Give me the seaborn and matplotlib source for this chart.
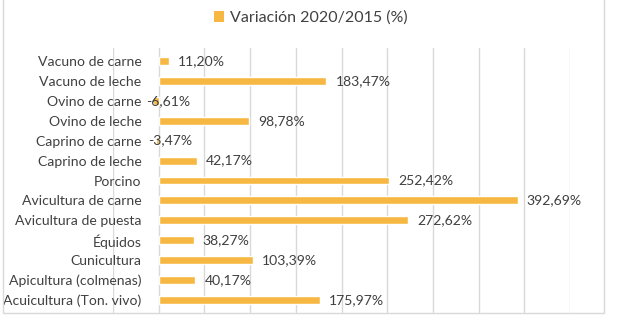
import matplotlib
matplotlib.use("Agg")
import matplotlib.pyplot as plt
from matplotlib.patches import Patch, Rectangle
import seaborn as sns
import pandas as pd

categories = [
    "Vacuno de carne", "Vacuno de leche", "Ovino de carne", "Ovino de leche",
    "Caprino de carne", "Caprino de leche", "Porcino", "Avicultura de carne",
    "Avicultura de puesta", "Équidos", "Cunicultura", "Apicultura (colmenas)",
    "Acuicultura (Ton. vivo)",
]
values = [11.20, 183.47, -6.61, 98.78, -3.47, 42.17, 252.42, 392.69,
          272.62, 38.27, 103.39, 40.17, 175.97]
series_name = "Variación 2020/2015 (%)"

BAR = "#F7B843"
TXT = "#404040"
GRID = "#D9D9D9"

sns.set_theme(style="white")
plt.rcParams["font.family"] = ["Lato", "DejaVu Sans"]

df = pd.DataFrame({"cat": categories, "val": values})

fig = plt.figure(figsize=(6.17, 3.34), dpi=100)
ax = fig.add_axes([113 / 617, 1 - 313 / 334, (570 - 113) / 617, (313 - 48) / 334])

sns.barplot(data=df, x="val", y="cat", orient="h", color=BAR, width=0.4,
            saturation=1, ax=ax, zorder=2)

ax.set_xlim(-50, 450)
ax.set_ylim(12.65, -0.65)
ax.set_xticks(range(-50, 451, 50))
ax.set_xticklabels([])
ax.xaxis.grid(True, color=GRID, linewidth=1, zorder=0)
ax.yaxis.grid(False)
ax.set_axisbelow(True)
for s in ax.spines.values():
    s.set_visible(False)
ax.set_xlabel("")
ax.set_ylabel("")
ax.tick_params(axis="y", length=0, pad=-20.5, labelsize=10.1, labelcolor=TXT)
ax.tick_params(axis="x", length=0)
for lbl in ax.get_yticklabels():
    lbl.set_zorder(3)

for i, v in enumerate(values):
    txt = f"{v:.2f}".replace(".", ",") + "%"
    if v >= 0:
        ax.annotate(txt, (v, i), xytext=(6.5, 0), textcoords="offset points",
                    ha="left", va="center", fontsize=10.1, color=TXT)
    else:
        ax.annotate(txt, (v, i), xytext=(-5, 0), textcoords="offset points",
                    ha="left", va="center", fontsize=10.1, color=TXT, zorder=4)

handle = Patch(facecolor=BAR, edgecolor="none", label=series_name)
fig.legend(handles=[handle], loc="center", bbox_to_anchor=(311 / 617, 1 - 18 / 334),
           frameon=False, fontsize=11.5, handlelength=0.6, handleheight=0.6,
           handletextpad=0.4, labelcolor=TXT)

fig.patches.append(Rectangle((3 / 617, 1 - 313 / 334), (604 - 3) / 617, 313 / 334 + 0.05,
                             transform=fig.transFigure, fill=False,
                             edgecolor=GRID, linewidth=1, zorder=0))

fig.savefig("out.png", dpi=100, facecolor="white")
